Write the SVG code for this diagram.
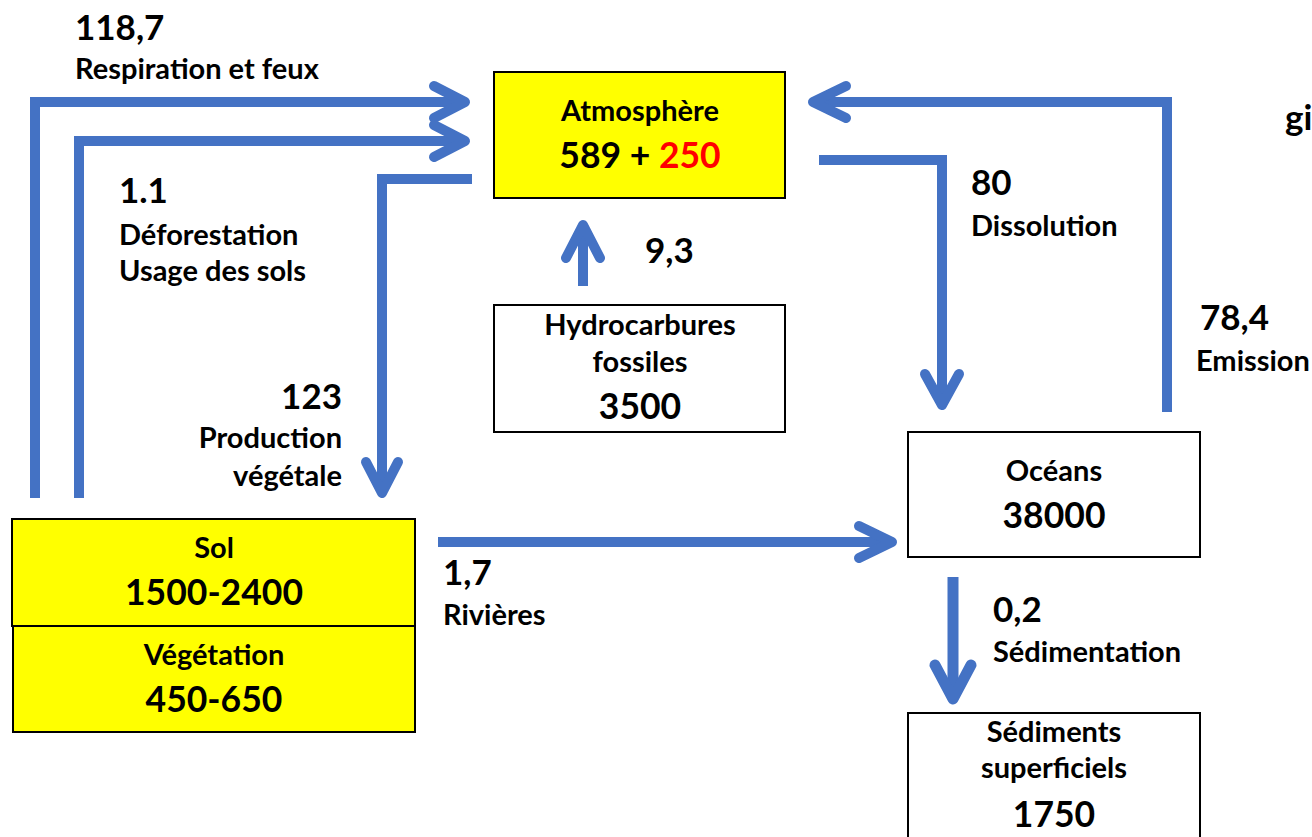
<svg xmlns="http://www.w3.org/2000/svg" width="1312" height="837" viewBox="0 0 1312 837">
<style>
text{font-family:Lato,"Liberation Sans",sans-serif;font-weight:bold;fill:#000}
.lb{font-size:29px}
.nb{font-size:35px}
.bt{font-size:29px;text-anchor:middle}
.bn{font-size:35.5px;text-anchor:middle}
.box{stroke:#000;stroke-width:2}
.y{fill:#ffff00}
.w{fill:#fff}
.ln{fill:none;stroke:#4472C4;stroke-width:10;stroke-linejoin:miter}
.hd{fill:none;stroke:#4472C4;stroke-width:10;stroke-linecap:round;stroke-linejoin:round}
</style>
<rect width="1312" height="837" fill="#fff"/>
<g id="connectors">
  <path class="ln" d="M35,498 V102 H462"/>
  <path class="hd" d="M434,86 L465,102 L434,118"/>
  <path class="ln" d="M79,498 V141 H462"/>
  <path class="hd" d="M434,125 L465,141 L434,157"/>
  <path class="ln" d="M472,179 H382 V490"/>
  <path class="hd" d="M366,462 L382,493 L398,462"/>
  <path class="ln" d="M583,286 V228"/>
  <path class="hd" d="M566,258 L583,225 L600,258"/>
  <path class="ln" d="M819,160 H942 V402"/>
  <path class="hd" d="M925,374 L942,405 L959,374"/>
  <path class="ln" d="M1167,412 V102 H816"/>
  <path class="hd" d="M846,86 L813,102 L846,118"/>
  <path class="ln" d="M438,542 H888"/>
  <path class="hd" d="M859,526 L892,542 L859,558"/>
  <path class="ln" d="M953,577 V696" style="stroke-width:11"/>
  <path class="hd" d="M935,665 L953,699 L971,665" style="stroke-width:11"/>
</g>
<g id="atmosphere">
  <rect class="box y" x="494" y="72" width="291" height="126"/>
  <text class="bt" x="640" y="121">Atmosphère</text>
  <text class="bn" x="640" y="168">589 + <tspan fill="#ff0000">250</tspan></text>
</g>
<g id="hydrocarbures">
  <rect class="box w" x="494" y="305" width="291" height="127"/>
  <text class="bt" x="640" y="335">Hydrocarbures</text>
  <text class="bt" x="640" y="372">fossiles</text>
  <text class="bn" x="640" y="419">3500</text>
</g>
<g id="oceans">
  <rect class="box w" x="908" y="432" width="292" height="125"/>
  <text class="bt" x="1054" y="481">Océans</text>
  <text class="bn" x="1054" y="528">38000</text>
</g>
<g id="sediments">
  <rect class="box w" x="908" y="713" width="292" height="140"/>
  <text class="bt" x="1054" y="742">Sédiments</text>
  <text class="bt" x="1054" y="778">superficiels</text>
  <text class="bn" x="1054" y="827">1750</text>
</g>
<g id="sol">
  <rect class="box y" x="12" y="519" width="403" height="107"/>
  <text class="bt" x="214" y="558">Sol</text>
  <text class="bn" x="214" y="605">1500-2400</text>
</g>
<g id="vegetation">
  <rect class="box y" x="13" y="626" width="402" height="106"/>
  <text class="bt" x="214" y="665">Végétation</text>
  <text class="bn" x="214" y="712">450-650</text>
</g>
<g id="labels">
  <text class="nb" x="75" y="40">118,7</text>
  <text class="lb" x="75" y="79">Respiration et feux</text>
  <text class="nb" x="119" y="203">1.1</text>
  <text class="lb" x="119" y="245">Déforestation</text>
  <text class="lb" x="119" y="281">Usage des sols</text>
  <text class="nb" x="342" y="409" text-anchor="end">123</text>
  <text class="lb" x="342" y="448" text-anchor="end">Production</text>
  <text class="lb" x="342" y="486" text-anchor="end">végétale</text>
  <text class="nb" x="645" y="263">9,3</text>
  <text class="nb" x="971" y="195">80</text>
  <text class="lb" x="971" y="236">Dissolution</text>
  <text class="nb" x="1200" y="330">78,4</text>
  <text class="lb" x="1196" y="371">Emission</text>
  <text class="nb" x="1285" y="130">gi</text>
  <text class="nb" x="443" y="585">1,7</text>
  <text class="lb" x="443" y="625">Rivières</text>
  <text class="nb" x="993" y="622">0,2</text>
  <text class="lb" x="993" y="662">Sédimentation</text>
</g>
</svg>
